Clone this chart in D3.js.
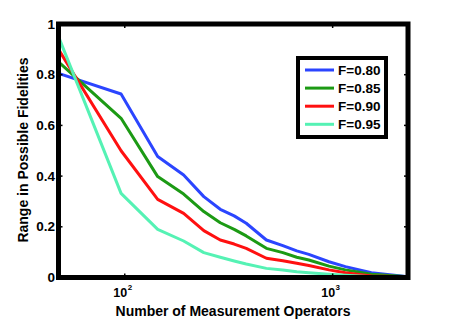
<!DOCTYPE html>
<html><head><meta charset="utf-8">
<script src="https://cdn.jsdelivr.net/npm/d3@7"></script>
<style>
html,body{margin:0;padding:0;background:#fff;}
svg{display:block;}
text{font-family:"Liberation Sans",Arial,sans-serif;font-weight:bold;fill:#000;}
</style></head>
<body>
<script>
// Data
const operators = [48, 96, 144, 192, 240, 288, 336, 384, 480, 576, 672, 768, 960, 1152, 1536, 2304];
const seriesNames = ["F=0.80", "F=0.85", "F=0.90", "F=0.95"];
const f080 = [0.805, 0.724, 0.477, 0.404, 0.319, 0.269, 0.243, 0.214, 0.148, 0.126, 0.105, 0.091, 0.062, 0.043, 0.019, 0.003];
const f085 = [0.851, 0.628, 0.398, 0.329, 0.260, 0.216, 0.190, 0.164, 0.115, 0.098, 0.080, 0.069, 0.045, 0.030, 0.013, 0.003];
const f090 = [0.900, 0.500, 0.308, 0.253, 0.185, 0.148, 0.132, 0.115, 0.076, 0.066, 0.056, 0.047, 0.030, 0.019, 0.006, 0.003];
const f095 = [0.950, 0.332, 0.190, 0.144, 0.098, 0.080, 0.065, 0.053, 0.036, 0.030, 0.023, 0.019, 0.013, 0.009, 0.003, 0.003];
const seriesValues = [f080, f085, f090, f095];
const colors = ["#2b45ff", "#1c9a14", "#ff1010", "#55f2b4"];
const xTicks = [100, 1000];
const xTickExp = ["2", "3"];
const yTicks = [0, 0.2, 0.4, 0.6, 0.8, 1];
const yTickLabels = ["0", "0.2", "0.4", "0.6", "0.8", "1"];

const W = 452, H = 319;
const L = 58.5, R = 408, T = 24, B = 277.5;

const svg = d3.select("body").append("svg").attr("width", W).attr("height", H);

const x = d3.scaleLog().domain([48, 2304]).range([L, R]);
const y = d3.scaleLinear().domain([0, 1]).range([B, T]);

// lines
const line = d3.line().x(d => x(d[0])).y(d => y(d[1]));
seriesValues.forEach((vals, i) => {
  svg.append("path")
    .datum(operators.map((o, j) => [o, vals[j]]))
    .attr("d", line)
    .attr("fill", "none")
    .attr("stroke", colors[i])
    .attr("stroke-width", 3)
    .attr("stroke-linejoin", "round");
});

// axes with inward ticks
const tickLen = 4;
const gx = svg.append("g");
xTicks.forEach(t => {
  gx.append("line").attr("x1", x(t)).attr("x2", x(t)).attr("y1", B).attr("y2", B - tickLen).attr("stroke", "#000").attr("stroke-width", 1.5);
  gx.append("line").attr("x1", x(t)).attr("x2", x(t)).attr("y1", T).attr("y2", T + tickLen).attr("stroke", "#000").attr("stroke-width", 1.5);
});
xTicks.forEach((t, i) => {
  const tx = gx.append("text").attr("x", x(t) - 2).attr("y", 297).attr("text-anchor", "middle").attr("font-size", 12.5);
  tx.append("tspan").text("10");
  tx.append("tspan").attr("dy", -7).attr("dx", 0.5).attr("font-size", 8).text(xTickExp[i]);
});
const gy = svg.append("g");
yTicks.forEach((t, i) => {
  gy.append("line").attr("x1", L).attr("x2", L + tickLen).attr("y1", y(t)).attr("y2", y(t)).attr("stroke", "#000").attr("stroke-width", 1.5);
  gy.append("line").attr("x1", R).attr("x2", R - tickLen).attr("y1", y(t)).attr("y2", y(t)).attr("stroke", "#000").attr("stroke-width", 1.5);
  gy.append("text").attr("x", 55).attr("y", y(t) + 4.5).attr("text-anchor", "end").attr("font-size", 13.5).text(yTickLabels[i]);
});

// frame
svg.append("rect").attr("x", L).attr("y", T).attr("width", R - L).attr("height", B - T)
  .attr("fill", "none").attr("stroke", "#000").attr("stroke-width", 5);

// axis labels
svg.append("text").attr("x", 233).attr("y", 316).attr("text-anchor", "middle").attr("font-size", 14)
  .text("Number of Measurement Operators");
svg.append("text").attr("transform", "translate(28,150) rotate(-90)").attr("text-anchor", "middle").attr("font-size", 14)
  .text("Range in Possible Fidelities");

// legend
const lg = svg.append("g");
lg.append("rect").attr("x", 298).attr("y", 58).attr("width", 88).attr("height", 79)
  .attr("fill", "#fff").attr("stroke", "#000").attr("stroke-width", 4);
seriesNames.forEach((n, i) => {
  const cy = 70 + i * 18.1;
  lg.append("line").attr("x1", 305).attr("x2", 334).attr("y1", cy).attr("y2", cy)
    .attr("stroke", colors[i]).attr("stroke-width", 3);
  lg.append("text").attr("x", 338).attr("y", cy + 5).attr("font-size", 13.5).text(n);
});
</script>
</body></html>
